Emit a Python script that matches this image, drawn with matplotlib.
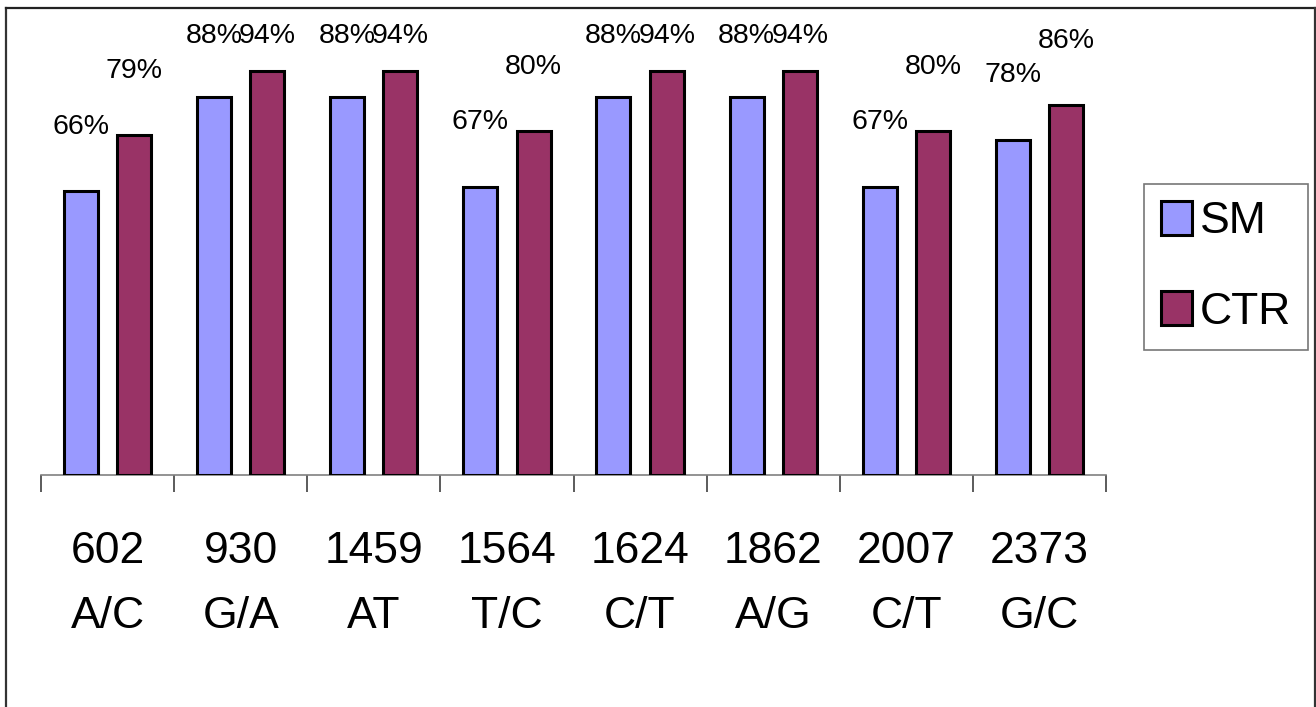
import matplotlib.pyplot as plt
import matplotlib.lines as mlines
import numpy as np

plt.rcParams['font.family'] = ['Liberation Sans', 'DejaVu Sans']

positions = ['602', '930', '1459', '1564', '1624', '1862', '2007', '2373']
alleles = ['A/C', 'G/A', 'AT', 'T/C', 'C/T', 'A/G', 'C/T', 'G/C']
sm = [66, 88, 88, 67, 88, 88, 67, 78]
ctr = [79, 94, 94, 80, 94, 94, 80, 86]

W, H = 1316, 707
fig = plt.figure(figsize=(W / 100, H / 100), dpi=100)
ax = fig.add_axes([41 / W, (H - 475) / H, (1106 - 41) / W, 430 / H])

x = np.arange(len(positions))
bw = 0.255
off = 0.2
b1 = ax.bar(x - off, sm, bw, color='#9999FF', edgecolor='black', linewidth=2.2, label='SM', zorder=3)
b2 = ax.bar(x + off, ctr, bw, color='#993366', edgecolor='black', linewidth=2.2, label='CTR', zorder=3)

# value labels sit well above the bars, kept inside the chart area at the top
for xs, vals in ((x - off, sm), (x + off, ctr)):
    for xi, v in zip(xs, vals):
        ax.text(xi, min(v + 15, 102), f'{v}%', ha='center', va='center', fontsize=20.5)

ax.set_xlim(-0.5, len(positions) - 0.5)
ax.set_ylim(0, 100)
for s in ('top', 'right', 'left'):
    ax.spines[s].set_visible(False)
ax.spines['bottom'].set_color('#808080')
ax.spines['bottom'].set_linewidth(1.2)
ax.set_yticks([])
ax.set_xticks(np.arange(-0.5, len(positions)), minor=False)
ax.set_xticklabels([])
ax.tick_params(axis='x', length=12, width=1.2, color='#404040', direction='out')

for xi, p, a in zip(x, positions, alleles):
    ax.text(xi, -17.8, p, ha='center', va='center', fontsize=32)
    ax.text(xi, -32.8, a, ha='center', va='center', fontsize=32)

leg = fig.legend(handles=[b1, b2], loc='upper left',
                 bbox_to_anchor=(1144 / W, 1 - 184 / H), borderaxespad=0,
                 fontsize=32, frameon=True, fancybox=False,
                 handlelength=0.7, handleheight=0.8, handletextpad=0.18,
                 labelspacing=1.1, borderpad=0.38)
leg.get_frame().set_edgecolor('#555555')
leg.get_frame().set_linewidth(1.2)

# outer chart border (no bottom edge)
fig.add_artist(mlines.Line2D([6 / W, 6 / W], [0, 1 - 7.5 / H], transform=fig.transFigure, color='#333333', lw=1.6))
fig.add_artist(mlines.Line2D([6 / W, 1315 / W], [1 - 7.5 / H, 1 - 7.5 / H], transform=fig.transFigure, color='#222222', lw=1.6))
fig.add_artist(mlines.Line2D([1315 / W, 1315 / W], [0, 1 - 7.5 / H], transform=fig.transFigure, color='#333333', lw=1.6))

fig.savefig('out.png', dpi=100)
